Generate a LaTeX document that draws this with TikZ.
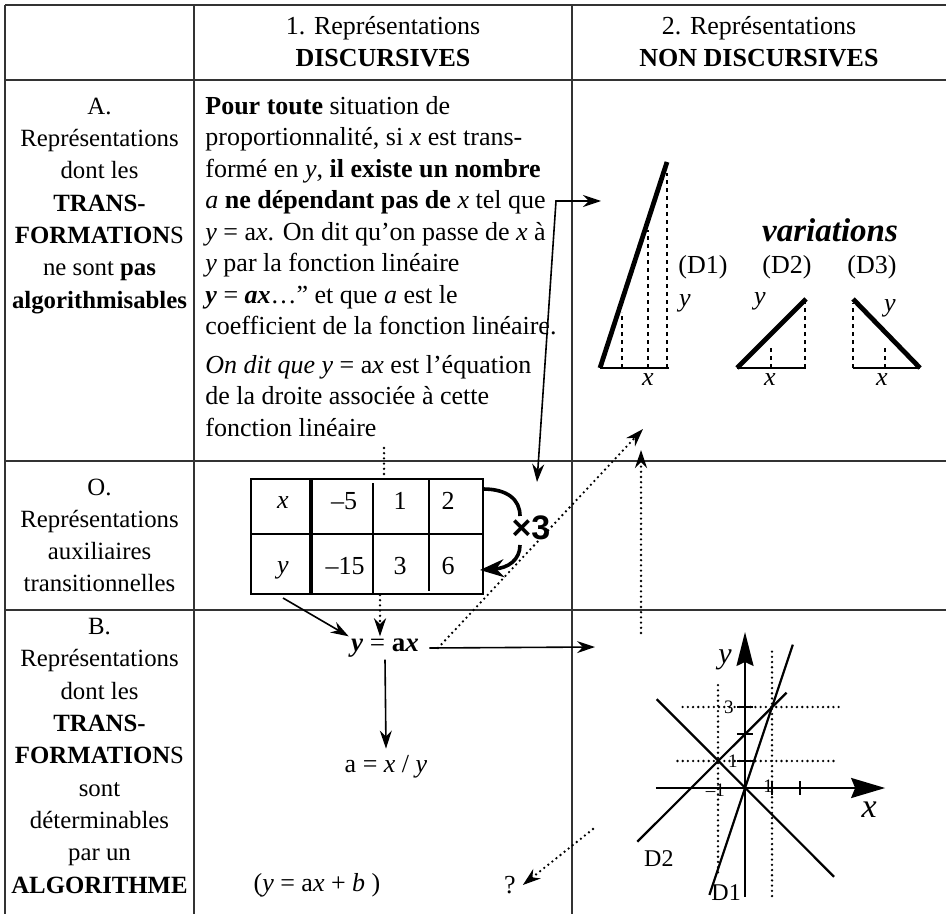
\documentclass[tikz,border=0pt]{standalone}
\usepackage{fontspec}
\setmainfont{Liberation Serif}
\newfontfamily\sansbold{Liberation Sans}
\usetikzlibrary{arrows.meta}

\begin{document}
\begin{tikzpicture}[
  x=0.5pt, y=-0.5pt,
  font=\fontsize{13}{16}\selectfont,
  >={Stealth[length=9pt,width=6pt]},
  rule/.style={draw=black!80, line width=0.6pt},
  cell/.style={inner sep=0pt, align=center, anchor=north},
  rowtext/.style={cell, font=\fontsize{12.4}{16.15}\selectfont},
  para/.style={inner sep=0pt, align=left, anchor=north west,
    font=\fontsize{13}{15.75}\selectfont},
  arrow/.style={line width=0.8pt},
  dotline/.style={line width=1.3pt, line cap=round, dash pattern=on 0pt off 2.6pt},
  bar/.style={line width=2.4pt},
  dashline/.style={line width=1.1pt, dash pattern=on 2pt off 2pt},
  axis/.style={line width=1.1pt},
  small/.style={font=\fontsize{9.5}{11}\selectfont, inner sep=0pt}
]
\useasboundingbox (0,0) rectangle (946,914);

% ── Grid of the table ──────────────────────────────────────────────────────
\draw[rule] (5,5) -- (946,5);
\draw[rule] (5,5) -- (5,914);
\draw[rule] (194,5) -- (194,914);
\draw[rule] (572,5) -- (572,914);
\foreach \ypos in {80,461,610}
  \draw[rule] (5,\ypos) -- (946,\ypos);

% ── Headers ────────────────────────────────────────────────────────────────
\node[cell] (headD) at (383,16) {1. Représentations\\\textbf{DISCURSIVES}};
\node[cell] (headN) at (759,16) {2. Représentations\\\textbf{NON DISCURSIVES}};

% ── Row labels ─────────────────────────────────────────────────────────────
\node[rowtext] (rowA) at (99.5,97.5)
  {A.\\Représentations\\dont les\\\textbf{TRANS-}\\\textbf{FORMATION}S\\ne sont \textbf{pas}\\\textbf{algorithmisables}};
\node[rowtext, font=\fontsize{12.4}{16}\selectfont] (rowO) at (99.5,478.5)
  {O.\\Représentations\\auxiliaires\\transitionnelles};
\node[rowtext] (rowB) at (99.5,618)
  {B.\\Représentations\\dont les\\\textbf{TRANS-}\\\textbf{FORMATION}S\\sont\\déterminables\\par un\\\textbf{ALGORITHME}};

% ── A1: definition text ────────────────────────────────────────────────────
\node[para] (defA) at (205,96)
  {\textbf{Pour toute} situation de\\
   proportionnalité, si \textit{x} est trans-\\
   formé en \textit{y}, \textbf{il existe un nombre}\\
   \textit{a} \textbf{ne dépendant pas de} \textit{x} tel que\\
   \textit{y} = a\textit{x}. On dit qu’on passe de \textit{x} à\\
   \textit{y} par la fonction linéaire\\
   \textbf{\textit{y}} = \textbf{\textit{ax}}…” et que \textit{a} est le\\
   coefficient de la fonction linéaire.};
\node[para] (defB) at (205,355)
  {\textit{On dit que y} = a\textit{x} est l’équation\\
   de la droite associée à cette\\
   fonction linéaire};

% ── A2: variations (D1) (D2) (D3) ──────────────────────────────────────────
\node[font=\fontsize{16.5}{18}\selectfont\bfseries\itshape] (var) at (830,230) {variations};
% D1
\draw[line width=1pt] (600,368) -- (669,368);
\draw[bar] (600,368) -- (667,162);
\draw[dashline] (622,368) -- (622,312) (648,368) -- (648,230) (667,368) -- (667,173);
\node (lD1) at (703,267) {(D1)};
\node (yD1) at (685,303) {\textit{y}};
\node (xD1) at (648,380) {\textit{x}};
% D2
\draw[line width=1pt] (737,368) -- (806,368);
\draw[bar] (737,368) -- (806,299);
\draw[dashline] (771,368) -- (771,345) (805,368) -- (805,300);
\node (lD2) at (787,267) {(D2)};
\node (yD2) at (760,301) {\textit{y}};
\node (xD2) at (770,380) {\textit{x}};
% D3
\draw[line width=1pt] (853,368) -- (920,368);
\draw[bar] (853,299) -- (920,368);
\draw[dashline] (853,368) -- (853,303) (885,368) -- (885,345);
\node (lD3) at (872,267) {(D3)};
\node (yD3) at (890,308) {\textit{y}};
\node (xD3) at (882,380) {\textit{x}};

% ── O1: table of values ────────────────────────────────────────────────────
\draw[line width=0.8pt] (251,479) rectangle (483,594);
\draw[line width=0.8pt] (251,534) -- (483,534);
\draw[line width=1.8pt] (311,479) -- (311,594);
\draw[line width=0.8pt] (373,483) -- (373,594) (429,479) -- (429,591);
\node[anchor=base] (tx)  at (283,508) {\textit{x}};
\node[anchor=base] (tx1) at (344,509) {–5};
\node[anchor=base] (tx2) at (400,509) {1};
\node[anchor=base] (tx3) at (448,509) {2};
\node[anchor=base] (ty)  at (283,573) {\textit{y}};
\node[anchor=base] (ty1) at (345,574) {–15};
\node[anchor=base] (ty2) at (400,574) {3};
\node[anchor=base] (ty3) at (448,574) {6};
\node[font=\sansbold\bfseries\fontsize{17}{17}\selectfont, inner sep=0pt] (times) at (531,528) {×3};
\draw[line width=1.8pt] (483,489) .. controls (508,489) and (520,500) .. (520,516);
\draw[line width=1.8pt, -{Stealth[length=12pt,width=9pt]}]
  (520,545) .. controls (520,560) and (508,568) .. (480,570);

% ── B1: formulas ───────────────────────────────────────────────────────────
\node[inner sep=1pt, font=\fontsize{13.5}{16}\selectfont] (yax) at (385,648) {\textbf{\textit{y}} = \textbf{a\textit{x}}};
\node (aq)  at (386,767) {a = \textit{x} / \textit{y}};
\node (yaxb) at (317,885) {(\textit{y} = a\textit{x} + \textit{b} )};
\node (qm)  at (510,885) {?};

% ── B2: graph of D1, D2, D3 ────────────────────────────────────────────────
\begin{scope}[shift={(745,788)}, x=13.5pt, y=13.5pt]
  \draw[dotline] (-2.31,3) -- (3.62,3);
  \draw[dotline] (-2.5,1) -- (3.43,1);
  \draw[dotline] (-1,3.81) -- (-1,-3.29);
  \draw[dotline] (1,5.05) -- (1,-4.03);
  \draw[axis, -{Stealth[length=17pt,width=10pt,inset=2pt]}] (-3.3,0) -- (5.19,0);
  \draw[axis, -{Stealth[length=17pt,width=8.5pt,inset=2pt]}] (0,-4.03) -- (0,5.78);
  \foreach \t in {1,2,3}
    \draw[axis] (-0.3,\t) -- (0.3,\t);
  \foreach \t in {1,2.05}
    \draw[axis] (\t,-0.25) -- (\t,0.25);
  \draw[axis] (-1.32,-3.96) -- (1.77,5.31);
  \draw[axis] (-3.99,-1.99) -- (1.54,3.53);
  \draw[axis] (-3.27,3.29) -- (3.30,-3.29);
  \node[small] (g3)  at (-0.6,3) {3};
  \node[small] (g1)  at (-0.45,1.0) {1};
  \node[small] (gm1) at (-1.1,-0.1) {–1};
  \node[small] (gp1) at (0.86,0.05) {1};
  \node[font=\fontsize{17}{17}\selectfont\itshape] (gx) at (4.6,-0.8) {x};
  \node[font=\fontsize{15}{15}\selectfont\itshape] (gy) at (-0.74,4.74) {y};
  \node[font=\fontsize{12}{12}\selectfont] (gD2) at (-3.19,-2.6) {D2};
  \node[font=\fontsize{12}{12}\selectfont] (gD1) at (-0.7,-3.88) {D1};
\end{scope}

% ── Connectors ─────────────────────────────────────────────────────────────
\coordinate (tq)    at (556,201);
\coordinate (fig)   at (601,201);
\coordinate (tabne) at (537,482);
\coordinate (paraS) at (384,448);
\coordinate (tabN)  at (384,479);
\coordinate (tabS)  at (380,595);
\coordinate (tabSW) at (283,598);
\coordinate (yaxE)  at (438,648);
\coordinate (figS)  at (643,429);
\coordinate (grN)   at (641,633);
\coordinate (grA)   at (641,450);
\coordinate (grW)   at (593,829);

\draw[arrow, <->] (tabne) -- (tq) -- (fig);
\draw[dotline] (paraS) -- (tabN);
\draw[dotline, ->] (tabS) -- (yax.north -| tabS);
\draw[arrow, ->] (tabSW) -- (yax.north west);
\draw[arrow, ->] (yax.south) -- (aq.north);
\draw[arrow, ->] (yax.east) ++(8,0) -- (595,647);
\draw[dotline, ->] (yaxE) -- (figS);
\draw[dotline, ->] (grN) -- (grA);
\draw[dotline, ->] (grW) -- (qm.east);

\end{tikzpicture}
\end{document}
